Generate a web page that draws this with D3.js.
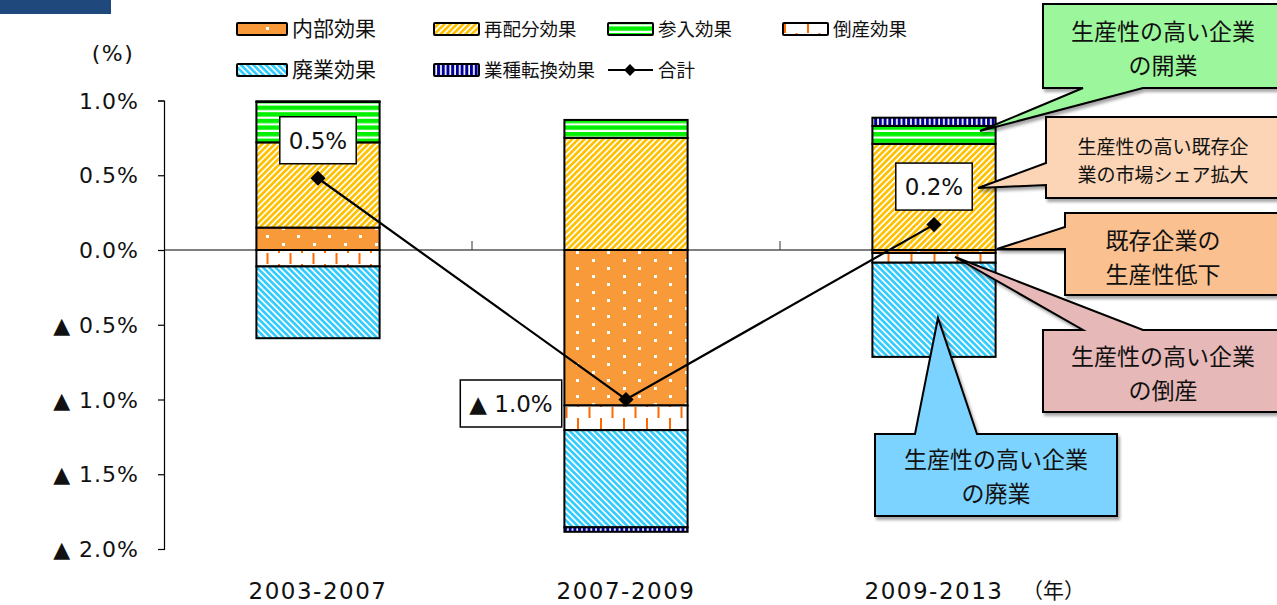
<!DOCTYPE html>
<html>
<head>
<meta charset="utf-8">
<script src="https://cdn.jsdelivr.net/npm/d3@7"></script>
<style>
  html, body { margin: 0; padding: 0; background: #fff; }
  #wrap { position: relative; width: 1277px; height: 605px; overflow: hidden; }
  svg { display: block; }
  .callout-text {
    position: absolute; text-align: center; color: #111; white-space: nowrap;
    font-family: 'Noto Sans CJK JP', 'Noto Sans', sans-serif;
  }
</style>
</head>
<body>
<div id="wrap"><svg id="chart" width="1277" height="605"></svg></div>
<script>
// ---- data ----
const categories = ["2003-2007", "2007-2009", "2009-2013"];
const internalEffect = [0.15, -1.04, -0.02];       // 内部効果
const reallocationEffect = [0.57, 0.75, 0.71];     // 再配分効果
const entryEffect = [0.27, 0.12, 0.12];            // 参入効果
const bankruptcyEffect = [-0.11, -0.165, -0.065];  // 倒産効果
const closureEffect = [-0.48, -0.65, -0.63];       // 廃業効果
const switchEffect = [0.005, -0.03, 0.055];        // 業種転換効果
const totalEffect = [0.48, -1.0, 0.17];            // 合計
const yTicks = [-2, -1.5, -1, -0.5, 0, 0.5, 1];
const seriesNames = ["内部効果", "再配分効果", "参入効果", "倒産効果", "廃業効果", "業種転換効果"];
const totalName = "合計";
const yearUnit = "（年）";
const percentUnit = "(%)";
const calloutTexts = [
  ["生産性の高い企業", "の開業"],
  ["生産性の高い既存企", "業の市場シェア拡大"],
  ["既存企業の", "生産性低下"],
  ["生産性の高い企業", "の倒産"],
  ["生産性の高い企業", "の廃業"]
];

// ---- setup ----
const svg = d3.select("#chart");
const latin = "'DejaVu Sans', Verdana, sans-serif";
const cjk = "'Noto Sans CJK JP', 'Noto Sans', sans-serif";

const seriesValues = [internalEffect, reallocationEffect, entryEffect, bankruptcyEffect, closureEffect, switchEffect];
const rows = categories.map((c, i) => {
  const r = { cat: c };
  seriesNames.forEach((k, j) => { r[k] = seriesValues[j][i]; });
  return r;
});

const x = d3.scaleBand().domain(categories).range([164, 1088]).paddingInner(0.6).paddingOuter(0.3);
const y = d3.scaleLinear().domain([-2, 1]).range([549, 100.5]);

// ---- fill patterns ----
const defs = svg.append("defs");

function pattern(id, w, h, transform) {
  const p = defs.append("pattern").attr("id", id)
    .attr("patternUnits", "userSpaceOnUse").attr("width", w).attr("height", h);
  if (transform) p.attr("patternTransform", transform);
  return p;
}
// 内部効果: orange with white dots
{
  const p = pattern("pat-internal", 31, 16);
  p.append("rect").attr("width", 31).attr("height", 16).attr("fill", "#F89A3A");
  p.append("rect").attr("x", 3).attr("y", 3).attr("width", 3).attr("height", 3).attr("fill", "#fff");
  p.append("rect").attr("x", 18).attr("y", 11).attr("width", 3).attr("height", 3).attr("fill", "#fff");
}
// 再配分効果: yellow upward diagonal
{
  const p = pattern("pat-realloc", 4.4, 10, "rotate(45)");
  p.append("rect").attr("width", 4.4).attr("height", 10).attr("fill", "#fff");
  p.append("rect").attr("width", 2.7).attr("height", 10).attr("fill", "#FFC000");
}
// 参入効果: green with white horizontal lines
{
  const p = pattern("pat-entry", 10, 6.6);
  p.append("rect").attr("width", 10).attr("height", 6.6).attr("fill", "#fff");
  p.append("rect").attr("width", 10).attr("height", 4.4).attr("fill", "#00F000");
}
// 倒産効果: white with staggered orange dashes
{
  const p = pattern("pat-bankrupt", 23, 22);
  p.append("rect").attr("width", 23).attr("height", 22).attr("fill", "#fff");
  p.append("rect").attr("x", 2).attr("y", 0).attr("width", 2).attr("height", 11).attr("fill", "#FF6A00");
  p.append("rect").attr("x", 13.5).attr("y", 11).attr("width", 2).attr("height", 11).attr("fill", "#FF6A00");
}
// 廃業効果: cyan downward diagonal
{
  const p = pattern("pat-closure", 4.4, 10, "rotate(-45)");
  p.append("rect").attr("width", 4.4).attr("height", 10).attr("fill", "#fff");
  p.append("rect").attr("width", 2.7).attr("height", 10).attr("fill", "#33CCFF");
}
// 業種転換効果: navy with white vertical lines
{
  const p = pattern("pat-switch", 4.7, 10);
  p.append("rect").attr("width", 4.7).attr("height", 10).attr("fill", "#000099");
  p.append("rect").attr("x", 3).attr("width", 1.7).attr("height", 10).attr("fill", "#fff");
}
const fills = ["url(#pat-internal)", "url(#pat-realloc)", "url(#pat-entry)",
               "url(#pat-bankrupt)", "url(#pat-closure)", "url(#pat-switch)"];

// drop shadow for callouts
const f = defs.append("filter").attr("id", "shadow").attr("x", "-10%").attr("y", "-10%")
  .attr("width", "130%").attr("height", "140%");
f.append("feDropShadow").attr("dx", 2).attr("dy", 3).attr("stdDeviation", 1.5)
  .attr("flood-color", "#000").attr("flood-opacity", 0.35);

// ---- header strip ----
svg.append("rect").attr("x", 0).attr("y", 0).attr("width", 111).attr("height", 14).attr("fill", "#1F497D");

// ---- zero line and category ticks ----
svg.append("line").attr("x1", 164).attr("x2", 1088).attr("y1", y(0)).attr("y2", y(0))
  .attr("stroke", "#808080").attr("stroke-width", 2);
const step = x.step();
svg.append("g").selectAll("line").data(d3.range(1, categories.length + 1)).join("line")
  .attr("x1", i => 164 + i * step).attr("x2", i => 164 + i * step)
  .attr("y1", y(0)).attr("y2", y(0) - 9)
  .attr("stroke", "#333").attr("stroke-width", 1);

// ---- y axis ----
const fmt = v => (v < 0 ? "▲ " : "") + d3.format(".1f")(Math.abs(v)) + "%";
const yAxis = svg.append("g").attr("transform", "translate(164,0)")
  .call(d3.axisLeft(y).tickValues(yTicks).tickFormat(fmt).tickSize(6).tickPadding(19));
yAxis.select(".domain").attr("stroke", "#000").attr("stroke-width", 1.2);
yAxis.selectAll(".tick line").attr("stroke", "#000").attr("stroke-width", 1.2);
yAxis.selectAll(".tick text").attr("font-family", latin).attr("font-size", 22)
  .attr("letter-spacing", 1).attr("fill", "#111").attr("dy", "0.35em");

svg.append("text").attr("x", 113).attr("y", 61).attr("text-anchor", "middle")
  .attr("font-family", latin).attr("font-size", 22).attr("letter-spacing", 1.5)
  .attr("fill", "#111").text(percentUnit);

// ---- stacked bars ----
const stacked = d3.stack().keys(seriesNames).offset(d3.stackOffsetDiverging)(rows);
const barG = svg.append("g");
stacked.forEach((layer, li) => {
  barG.append("g").selectAll("rect").data(layer).join("rect")
    .attr("x", d => x(d.data.cat))
    .attr("width", x.bandwidth())
    .attr("y", d => y(Math.max(d[0], d[1])))
    .attr("height", d => Math.abs(y(d[0]) - y(d[1])))
    .attr("fill", fills[li])
    .attr("stroke", "#000").attr("stroke-width", 2);
});

// ---- category labels ----
svg.append("g").selectAll("text").data(categories).join("text")
  .attr("x", c => x(c) + x.bandwidth() / 2).attr("y", 599)
  .attr("text-anchor", "middle").attr("font-family", latin).attr("font-size", 23)
  .attr("letter-spacing", 1.5).attr("fill", "#111").text(c => c);
svg.append("text").attr("x", 1022).attr("y", 598).attr("font-family", cjk)
  .attr("font-size", 21).attr("fill", "#111").text(yearUnit);

// ---- total line ----
const pts = categories.map((c, i) => [x(c) + x.bandwidth() / 2, y(totalEffect[i])]);
svg.append("path").attr("d", d3.line()(pts)).attr("fill", "none")
  .attr("stroke", "#000").attr("stroke-width", 2.2);
svg.append("g").selectAll("path").data(pts).join("path")
  .attr("d", d3.symbol(d3.symbolSquare, 115)())
  .attr("transform", p => `translate(${p[0]},${p[1]}) rotate(45)`)
  .attr("fill", "#000");

// value labels for the total
const labelOffsets = [[0, -38], [-115, 4], [0, -38]];
pts.forEach((p, i) => {
  const cx = p[0] + labelOffsets[i][0], cy = p[1] + labelOffsets[i][1];
  const g = svg.append("g");
  const t = g.append("text").attr("x", cx).attr("y", cy).attr("dy", "0.36em")
    .attr("text-anchor", "middle").attr("font-family", latin).attr("font-size", 23)
    .attr("fill", "#111").text(fmt(totalEffect[i]));
  const w = t.node().getComputedTextLength() + 18;
  g.insert("rect", "text").attr("x", cx - w / 2).attr("y", cy - 23.5)
    .attr("width", w).attr("height", 47).attr("fill", "#fff")
    .attr("stroke", "#000").attr("stroke-width", 1.5);
});

// ---- legend ----
const legendItems = [
  { i: 0, x: 237, w: 50, y: 29, fs: 21 }, { i: 1, x: 434, w: 45, y: 29, fs: 18.5 },
  { i: 2, x: 608, w: 45, y: 29, fs: 18.5 }, { i: 3, x: 783, w: 45, y: 29, fs: 18.5 },
  { i: 4, x: 237, w: 50, y: 70, fs: 21 }, { i: 5, x: 434, w: 45, y: 70, fs: 18.5 }
];
const lg = svg.append("g");
legendItems.forEach(d => {
  lg.append("rect").attr("x", d.x).attr("y", d.y - 6).attr("width", d.w).attr("height", 12)
    .attr("rx", 1).attr("fill", fills[d.i]).attr("stroke", "#000").attr("stroke-width", 2);
  lg.append("text").attr("x", d.x + d.w + 5).attr("y", d.y + 7)
    .attr("font-family", cjk).attr("font-size", d.fs).attr("fill", "#111").text(seriesNames[d.i]);
});
lg.append("line").attr("x1", 608).attr("x2", 653).attr("y1", 70).attr("y2", 70)
  .attr("stroke", "#000").attr("stroke-width", 2.2);
lg.append("path").attr("d", d3.symbol(d3.symbolSquare, 70)())
  .attr("transform", "translate(630,70) rotate(45)").attr("fill", "#000");
lg.append("text").attr("x", 658).attr("y", 77).attr("font-family", cjk)
  .attr("font-size", 18.5).attr("fill", "#111").text(totalName);

// ---- callouts ----
// box outline with a pointer inserted on one side
function calloutPath(b, side, a1, a2, tip) {
  const x0 = b.x, y0 = b.y, x1 = b.x + b.w, y1 = b.y + b.h;
  let p;
  if (side === "bottom") {
    p = [[x0, y0], [x1, y0], [x1, y1], [a2, y1], tip, [a1, y1], [x0, y1]];
  } else if (side === "top") {
    p = [[x0, y0], [a1, y0], tip, [a2, y0], [x1, y0], [x1, y1], [x0, y1]];
  } else { // left
    p = [[x0, y0], [x1, y0], [x1, y1], [x0, y1], [x0, a2], tip, [x0, a1]];
  }
  return "M" + p.map(q => q.join(",")).join("L") + "Z";
}
// cy: vertical centre of the two text lines, lh: line height
const callouts = [
  { box: { x: 1043, y: 4, w: 240, h: 84 }, side: "bottom", a: [1083, 1143], tip: [980, 131],
    fill: "#9CF79C", size: 23, cy: 48, lh: 34 },
  { box: { x: 1046, y: 117, w: 240, h: 81 }, side: "left", a: [163, 185], tip: [978, 188],
    fill: "#FBD5B5", size: 19, cy: 161, lh: 28 },
  { box: { x: 1065, y: 213, w: 220, h: 82 }, side: "left", a: [227, 249], tip: [997, 249],
    fill: "#FAC090", size: 23, cy: 256.5, lh: 34 },
  { box: { x: 1043, y: 330, w: 240, h: 82 }, side: "top", a: [1083, 1143], tip: [955, 257],
    fill: "#E6B8B7", size: 23, cy: 372.5, lh: 34 },
  { box: { x: 875, y: 434, w: 242, h: 82 }, side: "top", a: [915, 977], tip: [938, 318],
    fill: "#7DD3FF", size: 23, cy: 476, lh: 34 }
];
const cg = svg.append("g");
const wrap = d3.select("#wrap");
callouts.forEach((c, i) => {
  cg.append("path").attr("d", calloutPath(c.box, c.side, c.a[0], c.a[1], c.tip))
    .attr("fill", c.fill).attr("stroke", "#000").attr("stroke-width", 2)
    .attr("stroke-linejoin", "miter").attr("filter", "url(#shadow)");
  const cx = i === 4 ? c.box.x + c.box.w / 2 : Math.min(c.box.x + c.box.w / 2, 1163);
  const w = 260;
  wrap.append("div").attr("class", "callout-text")
    .style("left", (cx - w / 2) + "px").style("width", w + "px")
    .style("top", (c.cy - c.lh - 1) + "px")
    .style("font-size", c.size + "px").style("line-height", c.lh + "px")
    .html(calloutTexts[i].join("<br>"));
});
</script>
</body>
</html>
